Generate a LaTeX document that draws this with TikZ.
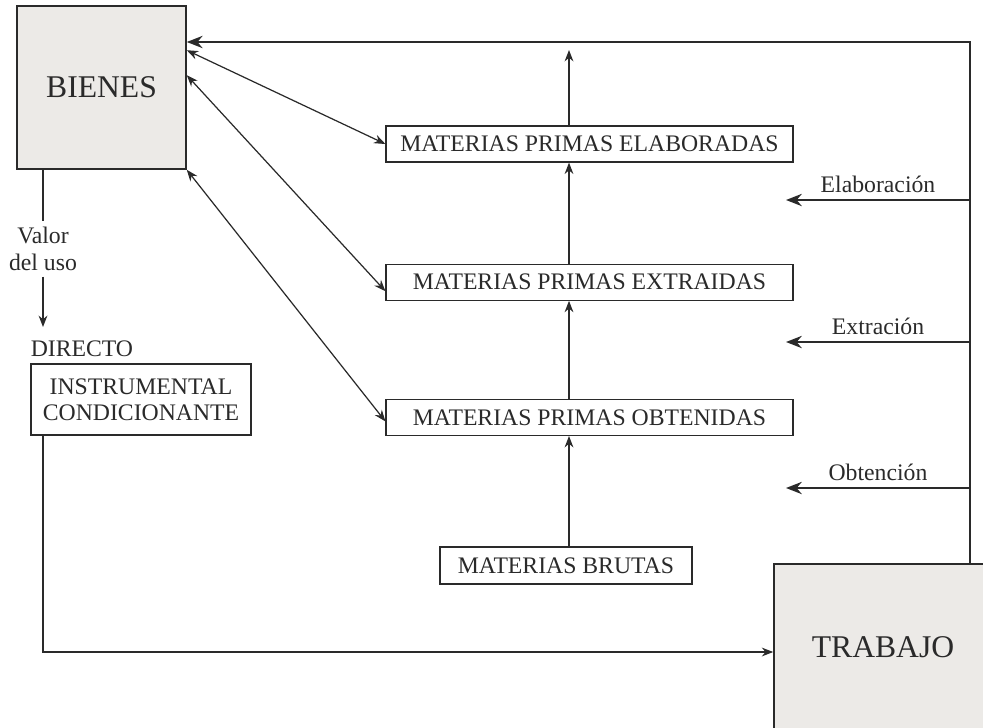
\documentclass[tikz,border=0pt]{standalone}
\usepackage{fontspec}
\setmainfont{Liberation Serif}
\usetikzlibrary{positioning,arrows.meta}
\definecolor{boxgray}{HTML}{ECEAE7}
\definecolor{ink}{HTML}{2A2A2A}

\begin{document}
\begin{tikzpicture}
    [ x = .02cm, y = -.02cm
    , every node/.style =
      { font=\fontsize{13.5}{15}\selectfont, text=ink }
    , big/.style =
      { draw=ink, fill=boxgray, line width=.9pt, font=\fontsize{18}{20}\selectfont }
    , materia/.style =
      { draw=ink, fill=white, line width=.7pt, minimum width=8.14cm, minimum height=.72cm, inner sep=0pt }
    , plain/.style =
      { draw=ink, line width=.7pt }
    , link/.style =
      { plain, -{Stealth[length=6.5pt,width=5pt]} }
    , twoway/.style =
      { link, {Stealth[length=6.5pt,width=5pt]}-{Stealth[length=6.5pt,width=5pt]} }
    , feed/.style =
      { draw=ink, line width=1.1pt, -{Stealth[length=9pt,width=7pt]} }
    ]
    \useasboundingbox (0,0) rectangle (983,727);
    \clip (0,0) rectangle (983,727);

    \node [big, minimum width=3.38cm, minimum height=3.26cm] (bienes) at (101.5,87.5) {BIENES};
    \node [big, minimum width=4.36cm, minimum height=3.32cm] (trabajo) at (883,647) {TRABAJO};

    \node [materia] (elab) at (589.5,144) {MATERIAS PRIMAS ELABORADAS};
    \node [materia] (extr) [below=2.02cm of elab] {MATERIAS PRIMAS EXTRAIDAS};
    \node [materia] (obten) [below=1.96cm of extr] {MATERIAS PRIMAS OBTENIDAS};
    \node [materia, minimum width=5.04cm, minimum height=.74cm] (brutas) at (566,565.5) {MATERIAS BRUTAS};

    \node [align=center] (valor) at (43,249) {Valor\\del uso};
    \node [plain, align=center, minimum width=4.4cm, minimum height=1.42cm, inner sep=0pt] (instr) at (141,399.5) {INSTRUMENTAL\\CONDICIONANTE};
    \node [above=.12cm of instr.north west, anchor=south west, inner sep=0pt] (directo) {DIRECTO};

    \coordinate (corner) at (970,42);
    \coordinate (elabtop) at (569,50);
    \coordinate (elabtip) at (786,200);
    \coordinate (extrtip) at (786,342);
    \coordinate (obtentip) at (786,488);
    \coordinate (valortip) at (43,327);

    % cadena de materias
    \draw [link] (elabtop |- brutas.north) -- (elabtop |- obten.south);
    \draw [link] (elabtop |- obten.north) -- (elabtop |- extr.south);
    \draw [link] (elabtop |- extr.north) -- (elabtop |- elab.south);
    \draw [link] (elabtop |- elab.north) -- (elabtop);

    \draw [twoway] ([yshift=-.9cm]bienes.north east) -- (elab.west);
    \draw [twoway] ([yshift=-1.4cm]bienes.north east) -- ([yshift=-.18cm]extr.west);
    \draw [twoway] (bienes.south east) -- ([yshift=-.08cm]obten.west);

    % trabajo
    \draw [feed] (trabajo.north -| corner) -- (corner) -- (corner -| bienes.east);
    \draw [feed] (elabtip -| corner) -- (elabtip) node [midway, above] {Elaboración};
    \draw [feed] (extrtip -| corner) -- (extrtip) node [midway, above] {Extración};
    \draw [feed] (obtentip -| corner) -- (obtentip) node [midway, above] {Obtención};

    % uso
    \draw [plain] (bienes.south -| valor) -- (valor.north);
    \draw [link] (valor.south) -- (valortip);
    \draw [link] (instr.south -| valor) |- ([yshift=-.1cm]trabajo.west);
\end{tikzpicture}
\end{document}
